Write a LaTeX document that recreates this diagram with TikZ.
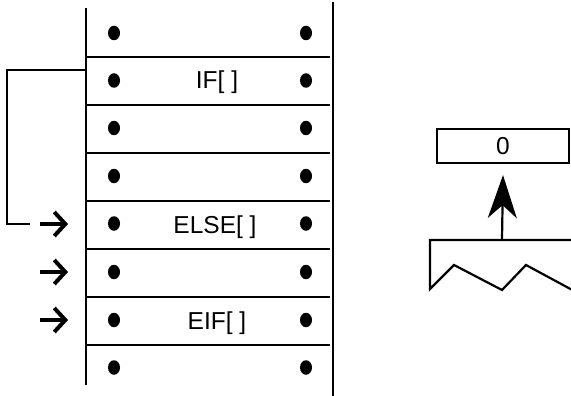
\documentclass[tikz,border=0pt]{standalone}
\usepackage{fontspec}
\setmainfont{Liberation Sans}
\usetikzlibrary{arrows.meta,shapes.geometric}
\begin{document}
\begin{tikzpicture}[x=1pt,y=-1pt,
  rule/.style={line width=2.2pt},
  dotmark/.style={ellipse,fill=black,minimum width=12pt,minimum height=14.5pt,inner sep=0pt},
  lbl/.style={anchor=base,font=\fontsize{24.5}{28}\selectfont,inner sep=0pt},
  chev/.style={line width=4pt,-{Straight Barb[length=11pt,width=24pt,line width=4pt]}},
  link/.style={line width=2.2pt}]
\useasboundingbox (0,0) rectangle (571,396);
\begin{scope}
\clip (0,0) rectangle (571,396);
% stack sides
\coordinate (lt) at (86,8);
\coordinate (lb) at (86,385);
\coordinate (rt) at (333,2);
\coordinate (rb) at (333,400);
\draw[rule] (lt) -- (lb);
\draw[rule] (rt) -- (rb);
% row separators
\foreach \i/\y in {1/57,2/105,3/153,4/201,5/249,6/297,7/345}{
  \coordinate (sl\i) at (87,\y);
  \coordinate (sr\i) at (330,\y);
  \draw[rule] (sl\i) -- (sr\i);
}
% dots
\foreach \i/\y in {1/33,2/80.5,3/128,4/176,5/223.5,6/272,7/320,8/367.5}{
  \node[dotmark] (dl\i) at (114,\y) {};
  \node[dotmark] (dr\i) at (306,\y) {};
}
% labels
\node[lbl] (tif) at (217,89) {IF[ ]};
\node[lbl] (telse) at (215,233) {ELSE[ ]};
\node[lbl] (teif) at (217,329) {EIF[ ]};
% jump bracket
\coordinate (jA) at (86,70);
\coordinate (jB) at (30,224);
\draw[link] (jA) -| (7,224) -- (jB);
% arrows
\coordinate (a1s) at (40,224); \coordinate (a1e) at (68,224);
\coordinate (a2s) at (40,272); \coordinate (a2e) at (68,272);
\coordinate (a3s) at (40,320); \coordinate (a3e) at (68,320);
\draw[chev] (a1s) -- (a1e);
\draw[chev] (a2s) -- (a2e);
\draw[chev] (a3s) -- (a3e);
% right: value box
\node[draw,line width=2.2pt,minimum width=132pt,minimum height=34pt,inner sep=0pt,
      font=\fontsize{24.5}{28}\selectfont] (val) at (503,146) {0};
% stack fragment
\coordinate (stop) at (502,240);
\draw[link,line join=miter] (575,240) -- (430,240) -- (430,289) -- (454,265) -- (502,290) -- (526,265) -- (576,292);
\draw[line width=2.2pt,-{Stealth[length=43pt,width=29pt,inset=13pt]}] (stop) -- ([yshift=-11pt]val.south);
\end{scope}
\end{tikzpicture}
\end{document}
